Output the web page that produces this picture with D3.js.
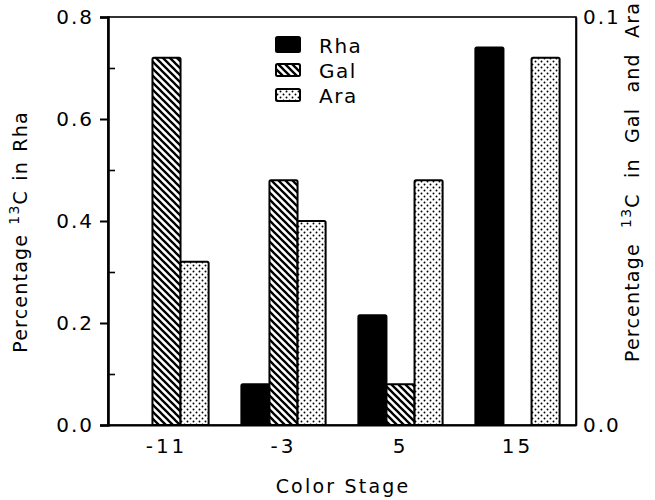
<!DOCTYPE html>
<html>
<head>
<meta charset="utf-8">
<script src="https://cdn.jsdelivr.net/npm/d3@7"></script>
<style>
  body { margin: 0; background: #fff; }
  text { font-family: "DejaVu Sans", sans-serif; fill: #000; }
</style>
</head>
<body>
<script>
const stages = ["-11", "-3", "5", "15"];
const series = ["Rha", "Gal", "Ara"];
// Rha on left axis (0-0.8), Gal and Ara on right axis (0-0.1)
const rha = [0, 0.08, 0.215, 0.74];
const gal = [0.09, 0.06, 0.01, 0];
const ara = [0.04, 0.05, 0.06, 0.09];
const leftTicks = [0, 0.2, 0.4, 0.6, 0.8];
const leftMinor = [0.1, 0.3, 0.5, 0.7];
const rightTicks = [0, 0.1];

const w = 655;
const h = 500;
const plotL = 108, plotR = 576, plotT = 17, plotB = 425;

const svg = d3.select("body").append("svg")
  .attr("width", w)
  .attr("height", h);

const defs = svg.append("defs");
const hatch = defs.append("pattern")
  .attr("id", "hatch")
  .attr("patternUnits", "userSpaceOnUse")
  .attr("width", 7).attr("height", 7);
hatch.append("rect").attr("width", 7).attr("height", 7).attr("fill", "#fff");
hatch.append("path")
  .attr("d", "M-2,-2L9,9M-2,5L2,9M5,-2L9,2")
  .attr("stroke", "#000")
  .attr("stroke-width", 2.3);

const dots = defs.append("pattern")
  .attr("id", "dots")
  .attr("patternUnits", "userSpaceOnUse")
  .attr("width", 6).attr("height", 6);
dots.append("rect").attr("width", 6).attr("height", 6).attr("fill", "#fff");
dots.append("circle").attr("cx", 1.5).attr("cy", 1.5).attr("r", 0.95).attr("fill", "#000");
dots.append("circle").attr("cx", 4.5).attr("cy", 4.5).attr("r", 0.95).attr("fill", "#000");

const fills = { Rha: "#000", Gal: "url(#hatch)", Ara: "url(#dots)" };

const x = d3.scaleBand()
  .domain(stages)
  .range([plotL, plotR])
  .paddingInner(0.28)
  .paddingOuter(0.14);

const xSub = d3.scaleBand()
  .domain(series)
  .range([0, x.bandwidth()]);

const yLeft = d3.scaleLinear().domain([0, 0.8]).range([plotB, plotT]);
const yRight = d3.scaleLinear().domain([0, 0.1]).range([plotB, plotT]);

const rows = [];
stages.forEach((s, i) => {
  rows.push({ stage: s, key: "Rha", y: yLeft(rha[i]), v: rha[i] });
  rows.push({ stage: s, key: "Gal", y: yRight(gal[i]), v: gal[i] });
  rows.push({ stage: s, key: "Ara", y: yRight(ara[i]), v: ara[i] });
});

svg.selectAll(".bar")
  .data(rows.filter(d => d.v > 0))
  .enter()
  .append("rect")
  .attr("class", "bar")
  .attr("x", d => x(d.stage) + xSub(d.key))
  .attr("y", d => d.y)
  .attr("width", xSub.bandwidth())
  .attr("height", d => plotB - d.y)
  .attr("rx", 1.5)
  .attr("fill", d => fills[d.key])
  .attr("stroke", "#000")
  .attr("stroke-width", 2);

// frame
svg.append("rect")
  .attr("x", plotL).attr("y", plotT)
  .attr("width", plotR - plotL).attr("height", plotB - plotT)
  .attr("fill", "none")
  .attr("stroke", "#000")
  .attr("stroke-width", 1.6);

// left axis
const leftAxis = d3.axisLeft(yLeft)
  .tickValues(leftTicks)
  .tickFormat(d3.format(".1f"))
  .tickSize(8)
  .tickPadding(6);
const gl = svg.append("g")
  .attr("transform", `translate(${plotL},0)`)
  .call(leftAxis);
gl.select(".domain").attr("stroke-width", 2.6);
gl.selectAll(".tick line").attr("stroke-width", 2);
gl.selectAll(".tick text")
  .attr("font-size", 20)
  .attr("font-family", "DejaVu Sans")
  .attr("letter-spacing", 2);

svg.append("g")
  .attr("transform", `translate(${plotL},0)`)
  .call(d3.axisRight(yLeft).tickValues(leftMinor).tickSize(7).tickFormat(""))
  .call(g => g.select(".domain").remove())
  .selectAll(".tick line").attr("stroke-width", 1.6);

// right axis
const gr = svg.append("g")
  .attr("transform", `translate(${plotR},0)`)
  .call(d3.axisRight(yRight).tickValues(rightTicks).tickFormat(d3.format(".1f")).tickSize(0).tickPadding(7));
gr.select(".domain").attr("stroke-width", 1.6);
gr.selectAll(".tick text")
  .attr("font-size", 20)
  .attr("font-family", "DejaVu Sans")
  .attr("letter-spacing", 2);

// x axis labels
const gx = svg.append("g")
  .attr("transform", `translate(0,${plotB})`)
  .call(d3.axisBottom(x).tickSize(0).tickPadding(14));
gx.select(".domain").attr("stroke-width", 2.2);
gx.selectAll(".tick text")
  .attr("font-size", 20)
  .attr("font-family", "DejaVu Sans")
  .attr("letter-spacing", 3);

// axis titles
svg.append("text")
  .attr("text-anchor", "middle")
  .attr("font-size", 19)
  .attr("letter-spacing", 2.2)
  .attr("x", 343).attr("y", 493)
  .text("Color  Stage");

function yTitle(tx, ty, after, ws) {
  const t = svg.append("text")
    .attr("text-anchor", "middle")
    .attr("font-size", 19)
    .attr("letter-spacing", 1.2)
    .attr("word-spacing", ws)
    .attr("transform", `translate(${tx},${ty})rotate(-90)`);
  t.append("tspan").text("Percentage  ");
  t.append("tspan").attr("font-size", 14).attr("dy", -8).text("13");
  t.append("tspan").attr("dy", 8).text("C in " + after);
}
yTitle(27, 232, "Rha", 2);
yTitle(639, 182, "Gal and Ara", 8);

// legend
const legend = svg.selectAll(".legend")
  .data(series)
  .enter()
  .append("g")
  .attr("class", "legend")
  .attr("transform", (d, i) => `translate(276, ${37 + i * 25})`);

legend.append("rect")
  .attr("width", 24)
  .attr("height", (d, i) => i === 0 ? 15 : 12)
  .attr("y", (d, i) => i === 0 ? 0 : 2)
  .attr("rx", 1.5)
  .attr("fill", d => fills[d])
  .attr("stroke", "#000")
  .attr("stroke-width", 2);

legend.append("text")
  .attr("x", 43)
  .attr("y", 16)
  .attr("font-size", 20)
  .attr("letter-spacing", 1.5)
  .text(d => d);
</script>
</body>
</html>
